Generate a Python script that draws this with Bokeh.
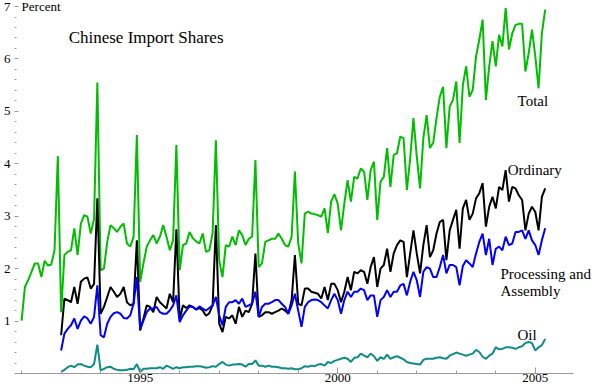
import numpy as np
from bokeh.plotting import figure
from bokeh.models import ColumnDataSource, FixedTicker, Label
from bokeh.embed import file_html
from bokeh.resources import INLINE

# ---- data (monthly, percent) ----
total_start = 1992.0
total = [
    1.01, 1.65, 1.78, 1.94, 2.10, 2.10, 1.84, 2.15, 2.06, 2.08, 2.35, 4.15,
    1.17, 2.26, 2.32, 2.35, 2.77, 2.26, 2.86, 3.02, 2.99, 2.67, 2.95, 5.55,
    1.97, 2.00, 2.51, 2.83, 2.77, 2.70, 2.80, 2.86, 2.48, 2.42, 2.61, 4.55,
    1.75, 2.10, 2.42, 2.54, 2.64, 2.48, 2.61, 2.83, 2.61, 2.35, 2.54, 4.36,
    1.97, 2.45, 2.48, 2.70, 2.58, 2.52, 2.48, 2.67, 2.32, 2.35, 2.67, 4.45,
    2.16, 1.84, 2.45, 2.42, 2.61, 2.45, 2.73, 2.64, 2.45, 2.57, 2.61, 4.07,
    2.03, 2.10, 2.51, 2.54, 2.57, 2.57, 2.67, 2.57, 2.45, 2.42, 2.61, 3.85,
    2.48, 2.10, 3.05, 3.09, 3.05, 3.04, 3.02, 2.99, 3.15, 2.68, 3.28, 3.42,
    3.24, 2.73, 3.24, 3.69, 3.28, 3.75, 3.72, 3.91, 3.85, 3.31, 3.88, 4.04,
    2.93, 3.66, 3.75, 4.30, 3.56, 4.17, 4.20, 4.52, 4.49, 3.50, 4.10, 4.87,
    4.14, 3.53, 4.49, 4.93, 4.30, 4.40, 4.87, 5.28, 5.47, 4.30, 5.09, 5.22,
    5.57, 4.40, 5.50, 5.86, 5.28, 5.41, 6.05, 6.37, 6.75, 5.22, 5.86, 6.34,
    5.86, 6.46, 6.24, 6.97, 6.18, 6.49, 6.65, 6.67, 6.67, 5.76, 6.11, 6.56,
    6.05, 5.44, 6.49, 6.94,
]

sub_start = 1993.0
ordinary = [
    0.73, 1.43, 1.40, 1.36, 1.65, 1.33, 1.75, 1.81, 1.83, 1.62, 1.71, 3.34,
    1.14, 1.27, 1.46, 1.65, 1.56, 1.46, 1.52, 1.65, 1.36, 1.30, 1.33, 2.54,
    0.82, 1.05, 1.30, 1.27, 1.17, 1.46, 1.36, 1.30, 1.24, 1.52, 1.36, 2.75,
    1.03, 1.30, 1.25, 1.30, 1.27, 1.22, 1.25, 1.20, 1.10, 1.15, 1.30, 2.83,
    0.95, 0.79, 1.08, 1.05, 1.11, 0.95, 1.27, 1.08, 1.20, 1.17, 1.33, 2.29,
    1.08, 1.11, 1.17, 1.17, 1.14, 1.17, 1.20, 1.24, 1.20, 1.14, 1.40, 2.26,
    1.33, 1.30, 1.62, 1.62, 1.56, 1.54, 1.52, 1.43, 1.65, 1.40, 1.71, 1.71,
    1.59, 1.36, 1.56, 1.84, 1.59, 1.94, 1.91, 1.97, 1.94, 1.71, 2.03, 2.22,
    1.65, 2.00, 2.07, 2.38, 1.94, 2.29, 2.45, 2.54, 2.51, 1.84, 2.29, 2.73,
    2.29, 1.91, 2.45, 2.83, 2.22, 2.35, 2.67, 2.89, 2.93, 2.16, 2.73, 2.93,
    3.12, 2.38, 3.15, 3.31, 2.93, 3.05, 3.34, 3.44, 3.63, 2.80, 3.18, 3.37,
    3.15, 3.56, 3.50, 3.88, 3.28, 3.56, 3.53, 3.40, 3.31, 2.73, 3.05, 3.18,
    3.08, 2.73, 3.37, 3.53,
]

processing = [
    0.44, 0.76, 0.85, 0.92, 1.05, 0.85, 1.01, 1.09, 1.05, 0.95, 1.08, 1.68,
    0.73, 0.69, 0.95, 1.08, 1.15, 1.17, 1.14, 1.06, 1.05, 1.11, 1.33, 1.84,
    0.85, 1.01, 1.17, 1.24, 1.24, 1.27, 1.17, 1.14, 1.14, 1.20, 1.30, 1.49,
    0.98, 1.11, 1.20, 1.28, 1.27, 1.22, 1.28, 1.24, 1.20, 1.25, 1.30, 1.46,
    1.11, 0.92, 1.27, 1.36, 1.36, 1.40, 1.33, 1.43, 1.27, 1.30, 1.33, 1.56,
    1.08, 1.27, 1.33, 1.33, 1.36, 1.40, 1.40, 1.33, 1.27, 1.14, 1.30, 1.52,
    1.20, 0.89, 1.27, 1.36, 1.40, 1.41, 1.40, 1.36, 1.30, 1.24, 1.40, 1.52,
    1.40, 1.14, 1.40, 1.56, 1.46, 1.56, 1.56, 1.62, 1.59, 1.40, 1.49, 1.49,
    1.08, 1.40, 1.46, 1.59, 1.46, 1.56, 1.56, 1.68, 1.71, 1.49, 1.75, 1.94,
    1.78, 1.46, 1.94, 2.03, 2.00, 1.84, 1.84, 2.03, 2.26, 1.91, 2.07, 2.07,
    2.03, 1.68, 2.05, 2.16, 2.10, 2.03, 2.29, 2.51, 2.67, 2.26, 2.57, 2.07,
    2.38, 2.42, 2.35, 2.61, 2.45, 2.48, 2.70, 2.70, 2.73, 2.57, 2.73, 2.54,
    2.45, 2.26, 2.54, 2.77,
]

oil = [
    0.03, 0.07, 0.12, 0.15, 0.12, 0.17, 0.18, 0.15, 0.13, 0.12, 0.18, 0.55,
    0.06, 0.09, 0.12, 0.13, 0.09, 0.07, 0.06, 0.06, 0.07, 0.09, 0.08, 0.18,
    0.03, 0.09, 0.09, 0.10, 0.10, 0.10, 0.12, 0.09, 0.15, 0.12, 0.09, 0.12,
    0.10, 0.12, 0.12, 0.13, 0.13, 0.14, 0.14, 0.13, 0.11, 0.12, 0.14, 0.13,
    0.18, 0.22, 0.17, 0.15, 0.17, 0.17, 0.18, 0.17, 0.13, 0.18, 0.18, 0.25,
    0.15, 0.15, 0.13, 0.15, 0.13, 0.13, 0.12, 0.10, 0.10, 0.09, 0.10, 0.08,
    0.08, 0.10, 0.14, 0.13, 0.15, 0.14, 0.17, 0.18, 0.15, 0.22, 0.20, 0.24,
    0.26, 0.28, 0.30, 0.28, 0.22, 0.30, 0.31, 0.38, 0.34, 0.31, 0.38, 0.33,
    0.24, 0.31, 0.28, 0.36, 0.28, 0.31, 0.33, 0.30, 0.27, 0.22, 0.20, 0.19,
    0.18, 0.17, 0.26, 0.28, 0.28, 0.28, 0.30, 0.31, 0.29, 0.28, 0.34, 0.37,
    0.40, 0.38, 0.36, 0.34, 0.36, 0.38, 0.45, 0.41, 0.32, 0.28, 0.34, 0.38,
    0.50, 0.46, 0.47, 0.50, 0.50, 0.49, 0.47, 0.50, 0.52, 0.58, 0.60, 0.58,
    0.44, 0.50, 0.54, 0.66,
]

x_major = [1995, 2000, 2005]
x_minor = list(range(1992, 2006))
y_major = [1, 2, 3, 4, 5, 6, 7]
x_axis_extent = (1991.75, 2005.96)

series = [
    (total, total_start, "#00BE00"),
    (ordinary, sub_start, "#000000"),
    (processing, sub_start, "#0000FF"),
    (oil, sub_start, "#0F8C88"),
]

# ---- figure ----
p = figure(width=600, height=387, x_range=(1991.82, 2006.65), y_range=(0, 7.115),
           output_backend="svg", toolbar_location=None,
           min_border_left=10, min_border_right=0, min_border_top=0, min_border_bottom=14)
p.outline_line_color = None
p.background_fill_color = "white"
p.border_fill_color = "white"
p.xgrid.visible = False
p.ygrid.visible = False

for vals, start, col in series:
    t = start + np.arange(len(vals)) / 12.0
    src = ColumnDataSource(dict(t=t, v=vals))
    p.line("t", "v", source=src, line_color=col, line_width=2)

serif = "Liberation Serif"

p.xaxis.bounds = x_axis_extent
p.xaxis.ticker = FixedTicker(ticks=x_major, minor_ticks=x_minor)
p.xaxis.axis_line_color = "#9a9a9a"
p.xaxis.major_tick_line_color = "#9a9a9a"
p.xaxis.minor_tick_line_color = "#9a9a9a"
p.xaxis.major_tick_in = 6
p.xaxis.major_tick_out = 0
p.xaxis.minor_tick_in = 3
p.xaxis.minor_tick_out = 0
p.xaxis.major_label_standoff = 0
p.xaxis.major_label_text_font = serif
p.xaxis.major_label_text_font_size = "13px"
p.xaxis.major_label_text_color = "#000000"

ymin = [round(0.2 * k, 1) for k in range(1, 35) if k % 5 != 0]
p.yaxis.ticker = FixedTicker(ticks=y_major, minor_ticks=ymin)
p.yaxis.axis_line_color = None
p.yaxis.major_tick_line_color = "#9a9a9a"
p.yaxis.minor_tick_line_color = "#9a9a9a"
p.yaxis.major_tick_in = 4
p.yaxis.major_tick_out = 0
p.yaxis.minor_tick_in = 2
p.yaxis.minor_tick_out = 0
p.yaxis.major_label_standoff = 4
p.yaxis.major_label_text_font = serif
p.yaxis.major_label_text_font_size = "13px"
p.yaxis.major_label_text_color = "#000000"

labels = [
    ("Percent", 1992.0, 7.0, "13px", "middle"),
    ("Chinese Import Shares", 1993.19, 6.41, "17px", "alphabetic"),
    ("Total", 2004.55, 5.19, "15px", "alphabetic"),
    ("Ordinary", 2004.30, 3.89, "15px", "alphabetic"),
    ("Processing and", 2004.12, 1.89, "15px", "alphabetic"),
    ("Assembly", 2004.12, 1.58, "15px", "alphabetic"),
    ("Oil", 2004.55, 0.73, "15px", "alphabetic"),
]
for txt, lx, ly, fs, bl in labels:
    p.add_layout(Label(x=lx, y=ly, text=txt, text_font=serif, text_font_size=fs,
                       text_baseline=bl, text_align="left", text_color="#000000"))

open("out.html", "w").write(file_html(p, INLINE))
